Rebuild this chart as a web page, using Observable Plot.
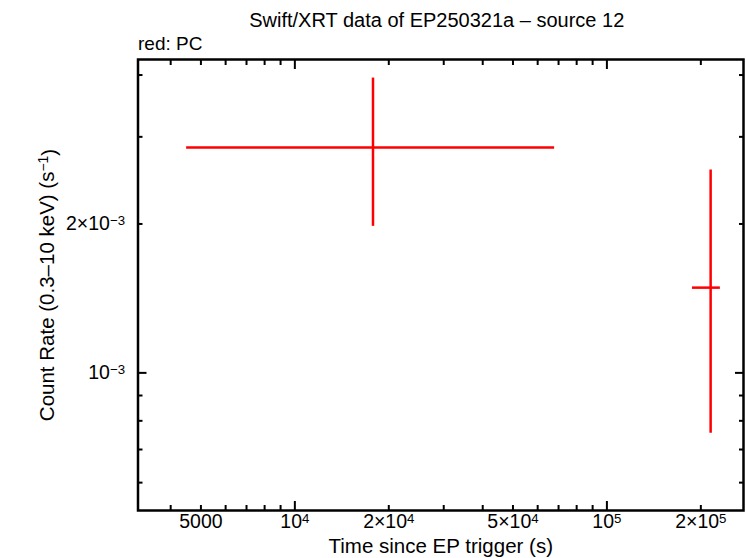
<!DOCTYPE html>
<html>
<head>
<meta charset="utf-8">
<script src="https://cdn.jsdelivr.net/npm/d3@7"></script>
<script src="https://cdn.jsdelivr.net/npm/@observablehq/plot@0.6"></script>
<style>
  html, body { margin: 0; padding: 0; background: #fff; }
  svg { display: block; }
</style>
</head>
<body>
<div id="chart"></div>
<script>
// ---- Data ----
const pcTime     = [17800, 215000];
const pcTimeLo   = [4500, 188000];
const pcTimeHi   = [68000, 231000];
const pcRate     = [2.856e-3, 1.487e-3];
const pcRateLo   = [1.978e-3, 7.55e-4];
const pcRateHi   = [3.944e-3, 2.57e-3];

const xDomain = [3143, 274000];
const yDomain = [5.27e-4, 4.30e-3];

const xTickValues = [5000, 1e4, 2e4, 5e4, 1e5, 2e5];
const xTickLabels = ["5000", "10⁴", "2×10⁴", "5×10⁴", "10⁵", "2×10⁵"];
const xMajor = [1e4, 1e5];
const xMinor = [4000, 5000, 6000, 7000, 8000, 9000, 2e4, 3e4, 4e4, 5e4, 6e4, 7e4, 8e4, 9e4, 2e5];

const yTickValues = [1e-3, 2e-3];
const yTickLabels = ["10⁻³", "2×10⁻³"];
const yMajor = [1e-3];
const yMinor = [6e-4, 7e-4, 8e-4, 9e-4, 2e-3, 3e-3, 4e-3];

const titleText = "Swift/XRT data of EP250321a – source 12";
const subText = "red: PC";
const xLabel = "Time since EP trigger (s)";
const yLabel = "Count Rate (0.3–10 keV) (s⁻¹)";

const points = pcTime.map((t, i) => ({
  t, tLo: pcTimeLo[i], tHi: pcTimeHi[i],
  r: pcRate[i], rLo: pcRateLo[i], rHi: pcRateHi[i]
}));

const fmt = (vals, labels) => v => {
  const i = vals.findIndex(u => Math.abs(u - v) / v < 1e-9);
  return i >= 0 ? labels[i] : "";
};
const none = () => "";

const chart = Plot.plot({
  width: 746,
  height: 558,
  marginLeft: 137.5,
  marginRight: 3,
  marginTop: 59,
  marginBottom: 48,
  style: { fontFamily: "'Liberation Sans', Arial, sans-serif", background: "#fff", color: "#000" },
  x: { type: "log", domain: xDomain },
  y: { type: "log", domain: yDomain },
  marks: [
    // error bars
    Plot.ruleY(points, { y: "r", x1: "tLo", x2: "tHi", stroke: "#ff0000", strokeWidth: 2.5 }),
    Plot.ruleX(points, { x: "t", y1: "rLo", y2: "rHi", stroke: "#ff0000", strokeWidth: 2.5 }),

    // tick labels
    Plot.axisX({ anchor: "bottom", ticks: xTickValues, tickFormat: fmt(xTickValues, xTickLabels), tickSize: 0, tickPadding: 4, fontSize: 19.5, label: null }),
    Plot.axisY({ anchor: "left", ticks: yTickValues, tickFormat: fmt(yTickValues, yTickLabels), tickSize: 0, tickPadding: 13, fontSize: 19.5, label: null }),

    // minor ticks (inward, all sides)
    Plot.axisX({ anchor: "bottom", ticks: xMinor, tickFormat: none, tickSize: -5, strokeWidth: 2, label: null }),
    Plot.axisX({ anchor: "top", ticks: xMinor, tickFormat: none, tickSize: -5, strokeWidth: 2, label: null }),
    Plot.axisY({ anchor: "left", ticks: yMinor, tickFormat: none, tickSize: -5, strokeWidth: 2, label: null }),
    Plot.axisY({ anchor: "right", ticks: yMinor, tickFormat: none, tickSize: -5, strokeWidth: 2, label: null }),
    // major ticks
    Plot.axisX({ anchor: "bottom", ticks: xMajor, tickFormat: none, tickSize: -9, strokeWidth: 2, label: null }),
    Plot.axisX({ anchor: "top", ticks: xMajor, tickFormat: none, tickSize: -9, strokeWidth: 2, label: null }),
    Plot.axisY({ anchor: "left", ticks: yMajor, tickFormat: none, tickSize: -9, strokeWidth: 2, label: null }),
    Plot.axisY({ anchor: "right", ticks: yMajor, tickFormat: none, tickSize: -9, strokeWidth: 2, label: null }),

    Plot.frame({ stroke: "#000", strokeWidth: 2.5 }),

    // titles and axis labels
    Plot.text([titleText], { frameAnchor: "top", textAnchor: "middle", lineAnchor: "middle", dy: -39, dx: -4, fontSize: 20, text: d => d }),
    Plot.text([subText], { frameAnchor: "top-left", textAnchor: "start", lineAnchor: "middle", dy: -16, fontSize: 19, text: d => d }),
    Plot.text([xLabel], { frameAnchor: "bottom", textAnchor: "middle", lineAnchor: "middle", dy: 36, fontSize: 20.5, text: d => d }),
    Plot.text([yLabel], { frameAnchor: "left", textAnchor: "middle", lineAnchor: "middle", rotate: -90, dx: -91, fontSize: 20.5, text: d => d })
  ]
});

// Render unicode superscripts as real raised, smaller text (tspans)
const supMap = { "⁰": "0", "¹": "1", "²": "2", "³": "3", "⁴": "4", "⁵": "5", "⁶": "6", "⁷": "7", "⁸": "8", "⁹": "9", "⁻": "−" };
const NS = "http://www.w3.org/2000/svg";
chart.querySelectorAll("text").forEach(t => {
  const targets = t.querySelectorAll("tspan").length ? Array.from(t.querySelectorAll("tspan")) : [t];
  targets.forEach(el => {
    const s = el.textContent;
    if (!/[⁰¹²³⁴⁵⁶⁷⁸⁹⁻]/.test(s)) return;
    const runs = [];
    for (const ch of s) {
      const sup = ch in supMap;
      const c = sup ? supMap[ch] : ch;
      if (runs.length && runs[runs.length - 1].sup === sup) runs[runs.length - 1].s += c;
      else runs.push({ sup, s: c });
    }
    el.textContent = "";
    let prevSup = false;
    runs.forEach(r => {
      const sp = document.createElementNS(NS, "tspan");
      sp.textContent = r.s;
      if (r.sup && !prevSup) { sp.setAttribute("dy", "-0.42em"); sp.setAttribute("font-size", "68%"); }
      else if (!r.sup && prevSup) { sp.setAttribute("dy", "0.42em"); }
      el.appendChild(sp);
      prevSup = r.sup;
    });
  });
});

document.getElementById("chart").appendChild(chart);
</script>
</body>
</html>
